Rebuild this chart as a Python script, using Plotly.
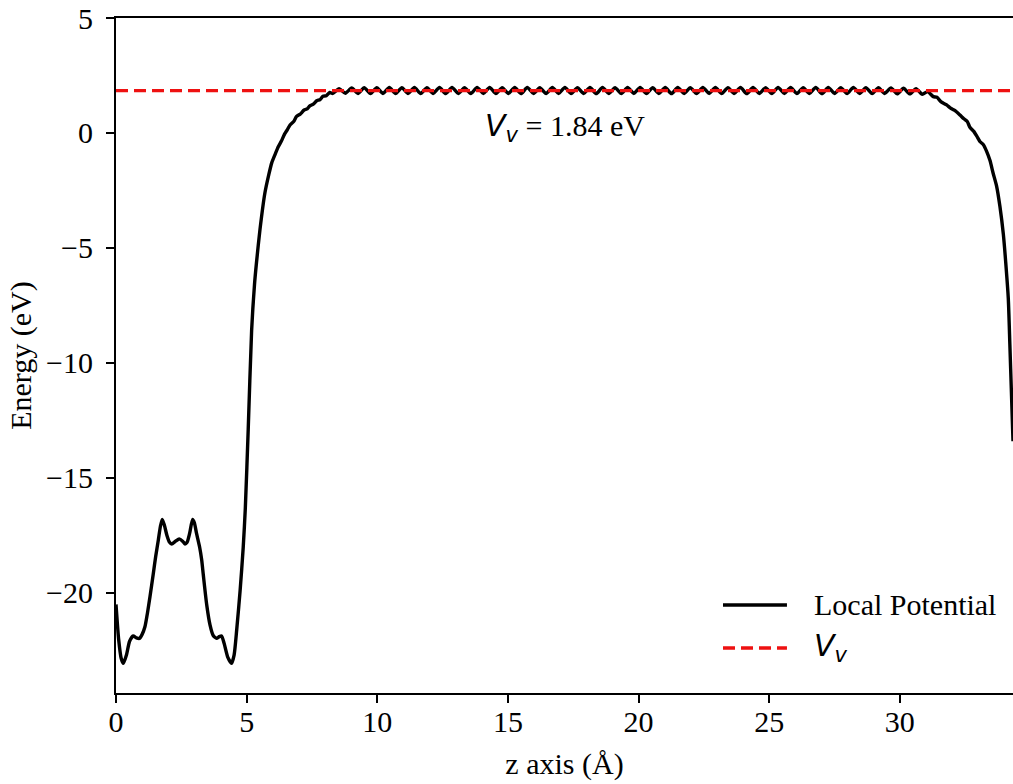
import plotly.graph_objects as go

# ---------------- data ----------------
z_left = [0.00, 0.10, 0.20, 0.28, 0.40, 0.52, 0.66, 0.78, 0.89, 1.00, 1.11, 1.20, 1.30,
          1.43, 1.52, 1.62, 1.70, 1.77, 1.85, 1.95, 2.05, 2.13, 2.28, 2.42, 2.55, 2.64,
          2.72, 2.82, 2.93, 3.00, 3.08, 3.20, 3.28, 3.34, 3.47, 3.60, 3.72, 3.85, 3.95,
          4.04, 4.14, 4.28, 4.42, 4.52, 4.62, 4.75, 4.87, 4.95, 5.06, 5.19, 5.30, 5.38,
          5.51, 5.70, 5.85, 5.96, 6.10, 6.21, 6.33, 6.45, 6.56, 6.66, 6.80, 6.91, 7.05,
          7.20, 7.32, 7.42, 7.55, 7.68, 7.81, 7.92, 8.05, 8.18]
e_left = [-20.50, -22.00, -22.85, -23.06, -22.70, -22.10, -21.87, -21.95, -21.98, -21.80,
          -21.46, -20.90, -20.16, -19.14, -18.40, -17.70, -17.10, -16.80, -17.05, -17.50,
          -17.80, -17.87, -17.75, -17.65, -17.75, -17.87, -17.80, -17.40, -16.80, -16.95,
          -17.40, -18.00, -18.57, -19.20, -20.50, -21.40, -21.85, -21.97, -21.90, -21.87,
          -22.20, -22.80, -23.06, -22.70, -21.60, -19.90, -18.00, -16.30, -12.90, -8.60,
          -6.60, -5.60, -4.20, -2.60, -1.80, -1.30, -0.90, -0.60, -0.35, -0.05, 0.15,
          0.35, 0.50, 0.72, 0.82, 1.00, 1.05, 1.18, 1.25, 1.40, 1.45, 1.60, 1.62, 1.76]

z_plateau = [8.30, 8.54, 8.78, 9.02, 9.26, 9.50, 9.74, 9.98, 10.22, 10.46, 10.70, 10.94,
             11.18, 11.42, 11.66, 11.90, 12.14, 12.38, 12.62, 12.86, 13.10, 13.34, 13.58,
             13.82, 14.06, 14.30, 14.54, 14.78, 15.02, 15.26, 15.50, 15.74, 15.98, 16.22,
             16.46, 16.70, 16.94, 17.18, 17.42, 17.66, 17.90, 18.14, 18.38, 18.62, 18.86,
             19.10, 19.34, 19.58, 19.82, 20.06, 20.30, 20.54, 20.78, 21.02, 21.26, 21.50,
             21.74, 21.98, 22.22, 22.46, 22.70, 22.94, 23.18, 23.42, 23.66, 23.90, 24.14,
             24.38, 24.62, 24.86, 25.10, 25.34, 25.58, 25.82, 26.06, 26.30, 26.54, 26.78,
             27.02, 27.26, 27.50, 27.74, 27.98, 28.22, 28.46, 28.70, 28.94, 29.18, 29.42,
             29.66, 29.90, 30.14, 30.38, 30.62, 30.86]
e_plateau = [1.72, 1.93, 1.73, 1.96, 1.72, 1.97, 1.71, 1.97, 1.72, 1.98, 1.71, 1.97,
             1.72, 1.98, 1.71, 1.97, 1.72, 1.98, 1.71, 1.98, 1.72, 1.97, 1.71, 1.98,
             1.72, 1.98, 1.71, 1.97, 1.72, 1.98, 1.71, 1.98, 1.72, 1.97, 1.71, 1.98,
             1.72, 1.98, 1.71, 1.97, 1.72, 1.98, 1.71, 1.98, 1.72, 1.97, 1.71, 1.98,
             1.72, 1.98, 1.71, 1.97, 1.72, 1.98, 1.71, 1.98, 1.72, 1.97, 1.71, 1.98,
             1.72, 1.98, 1.71, 1.97, 1.72, 1.98, 1.71, 1.98, 1.72, 1.97, 1.71, 1.98,
             1.72, 1.98, 1.71, 1.97, 1.72, 1.98, 1.71, 1.98, 1.72, 1.97, 1.71, 1.98,
             1.72, 1.97, 1.71, 1.97, 1.72, 1.96, 1.70, 1.95, 1.70, 1.93, 1.68]

z_right = [31.06, 31.28, 31.42, 31.58, 31.79, 31.94, 32.10, 32.30, 32.45, 32.58, 32.68,
           32.82, 32.95, 33.07, 33.19, 33.32, 33.45, 33.57, 33.70, 33.83, 33.96, 34.05,
           34.15, 34.21, 34.27, 34.33]
e_right = [1.80, 1.58, 1.55, 1.35, 1.22, 1.08, 0.98, 0.78, 0.62, 0.50, 0.25, 0.08,
           -0.15, -0.38, -0.50, -0.80, -1.20, -1.75, -2.30, -3.20, -4.40, -5.60, -7.20,
           -9.20, -11.30, -13.40]

z_values = z_left + z_plateau + z_right
local_potential = e_left + e_plateau + e_right

vacuum_level = 1.84
x_range = [0, 34.33]
y_range = [-24.35, 5]
x_ticks = [0, 5, 10, 15, 20, 25, 30]
y_ticks = [5, 0, -5, -10, -15, -20]

SERIF = "Liberation Serif, Times New Roman, serif"
SANS = "DejaVu Sans"
FS = 30

fig = go.Figure()
fig.add_trace(go.Scatter(
    x=z_values, y=local_potential, mode="lines",
    line=dict(color="black", width=3.4, shape="spline", smoothing=0.6),
    name="Local Potential", showlegend=False))
fig.add_trace(go.Scatter(
    x=[x_range[0], 40], y=[vacuum_level, vacuum_level], mode="lines",
    line=dict(color="#ee1111", width=3.4, dash="12px,6px"),
    name="V_v", showlegend=False))

# annotation
fig.add_annotation(
    x=17.18, y=0.22, xref="x", yref="y", showarrow=False,
    text=(f"<span style='font-family:{SANS}'><i>V</i><sub><i>v</i></sub></span>"
          f" = {vacuum_level:.2f} eV"),
    font=dict(family=SERIF, size=FS, color="black"))

# custom legend (lower right)
fig.add_shape(type="line", xref="paper", yref="paper",
              x0=0.6767, x1=0.748, y0=0.1304, y1=0.1304,
              line=dict(color="black", width=3.4))
fig.add_shape(type="line", xref="paper", yref="paper",
              x0=0.6767, x1=0.748, y0=0.0667, y1=0.0667,
              line=dict(color="#ee1111", width=3.4, dash="12px,6px"))
fig.add_annotation(x=0.776, y=0.1304, xref="paper", yref="paper", showarrow=False,
                   xanchor="left", yanchor="middle", text="Local Potential",
                   font=dict(family=SERIF, size=FS, color="black"))
fig.add_annotation(x=0.776, y=0.0667, xref="paper", yref="paper", showarrow=False,
                   xanchor="left", yanchor="middle",
                   text=f"<span style='font-family:{SANS}'><i>V</i><sub><i>v</i></sub></span>",
                   font=dict(family=SERIF, size=FS, color="black"))

fig.update_layout(
    width=1013, height=784,
    margin=dict(l=116, r=0, t=18, b=91),
    paper_bgcolor="white", plot_bgcolor="white",
    font=dict(family=SERIF, size=FS, color="black"),
    showlegend=False,
)
fig.update_xaxes(
    range=x_range, tickvals=x_ticks, ticks="outside", ticklen=8, tickwidth=1.5,
    tickcolor="black", showline=True, linecolor="black", linewidth=2, mirror=True,
    showgrid=False, zeroline=False, ticklabelstandoff=-7,
    title=dict(text="z axis (Å)", font=dict(family=SERIF, size=FS), standoff=16),
    tickfont=dict(family=SERIF, size=FS))
fig.update_yaxes(
    range=y_range, tickvals=y_ticks, ticks="outside", ticklen=8, tickwidth=1.5,
    tickcolor="black", showline=True, linecolor="black", linewidth=2, mirror=False,
    showgrid=False, zeroline=False, ticklabelstandoff=7,
    title=dict(text="Energy (eV)", font=dict(family=SERIF, size=FS), standoff=6),
    tickfont=dict(family=SERIF, size=FS))

fig.write_html(
    "out.html",
    config={"displayModeBar": False},
    post_script="document.body.style.margin='0px';document.body.style.overflow='hidden';")
